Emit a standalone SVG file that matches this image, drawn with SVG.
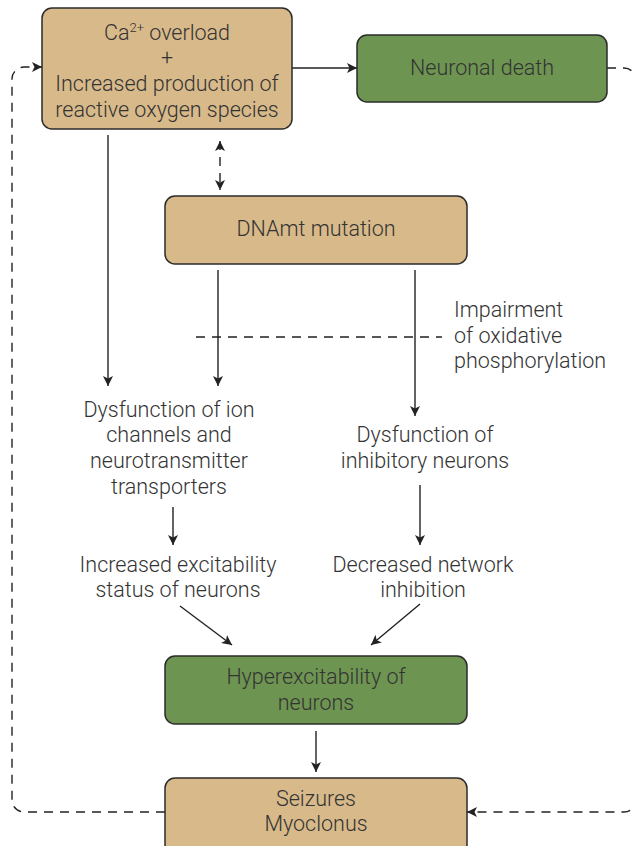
<svg xmlns="http://www.w3.org/2000/svg" width="632" height="846" viewBox="0 0 632 846">
<defs>
<marker id="ah" viewBox="0 0 10 10" refX="10" refY="5" markerWidth="10" markerHeight="10" markerUnits="userSpaceOnUse" orient="auto-start-reverse">
<path d="M0,0 L10,5 L0,10 L2.5,5 Z" fill="#222"/>
</marker>
<style>
.tan{fill:#D8B98A;stroke:#2b2b2b;stroke-width:1.5}
.grn{fill:#6E9452;stroke:#2b2b2b;stroke-width:1.5}
text{font-family:Roboto,"Liberation Sans",sans-serif;font-weight:300;font-size:21.5px;fill:#333;text-anchor:middle}
.l{text-anchor:start}
.c{fill:none;stroke:#222;stroke-width:1.4}
.d{stroke-dasharray:9,7}
</style>
</defs>
<rect width="632" height="846" fill="#fff"/>
<g id="connectors">
<path class="c" d="M292,68 H357" marker-end="url(#ah)"/>
<path class="c d" d="M220,141 V190" stroke-dasharray="7,6" marker-start="url(#ah)" marker-end="url(#ah)"/>
<path class="c" d="M108,135 V386" marker-end="url(#ah)"/>
<path class="c" d="M218,270 V386" marker-end="url(#ah)"/>
<path class="c" d="M415,270 V416" marker-end="url(#ah)"/>
<path class="c d" d="M196,337 H442"/>
<path class="c" d="M173,507 V545" marker-end="url(#ah)"/>
<path class="c" d="M420,485 V545" marker-end="url(#ah)"/>
<path class="c" d="M180,606 L232,645" marker-end="url(#ah)"/>
<path class="c" d="M420,604 L371,645" marker-end="url(#ah)"/>
<path class="c" d="M316,731 V772" marker-end="url(#ah)"/>
<path class="c d" d="M165,812 H24 A12,12 0 0 1 12,800 V80 A12,12 0 0 1 24,67 H42" marker-end="url(#ah)"/>
<path class="c d" d="M607,68 H624 A12,12 0 0 1 636,80 V800 A12,12 0 0 1 624,812 H467" marker-end="url(#ah)"/>
</g>
<g id="n1">
<rect class="tan" x="42" y="8" width="250" height="121" rx="10"/>
<text x="167" y="40">Ca<tspan font-size="13" dy="-8">2+</tspan><tspan dy="8"> overload</tspan></text>
<text x="167" y="65">+</text>
<text x="167" y="91">Increased production of</text>
<text x="167" y="117">reactive oxygen species</text>
</g>
<g id="n2">
<rect class="grn" x="357" y="35" width="250" height="67" rx="10"/>
<text x="482" y="75">Neuronal death</text>
</g>
<g id="n3">
<rect class="tan" x="165" y="196" width="302" height="68" rx="10"/>
<text x="316" y="236">DNAmt mutation</text>
</g>
<g id="n4">
<text class="l" x="454" y="317">Impairment</text>
<text class="l" x="454" y="343">of oxidative</text>
<text class="l" x="454" y="368">phosphorylation</text>
</g>
<g id="n5">
<text x="169" y="417">Dysfunction of ion</text>
<text x="169" y="442">channels and</text>
<text x="169" y="468">neurotransmitter</text>
<text x="169" y="494">transporters</text>
</g>
<g id="n6">
<text x="425" y="442">Dysfunction of</text>
<text x="425" y="468">inhibitory neurons</text>
</g>
<g id="n7">
<text x="178" y="572">Increased excitability</text>
<text x="178" y="597">status of neurons</text>
</g>
<g id="n8">
<text x="423" y="572">Decreased network</text>
<text x="423" y="597">inhibition</text>
</g>
<g id="n9">
<rect class="grn" x="165" y="656" width="302" height="68" rx="10"/>
<text x="316" y="684">Hyperexcitability of</text>
<text x="316" y="710">neurons</text>
</g>
<g id="n10">
<rect class="tan" x="165" y="778" width="302" height="78" rx="10"/>
<text x="316" y="806">Seizures</text>
<text x="316" y="831">Myoclonus</text>
</g>
</svg>
